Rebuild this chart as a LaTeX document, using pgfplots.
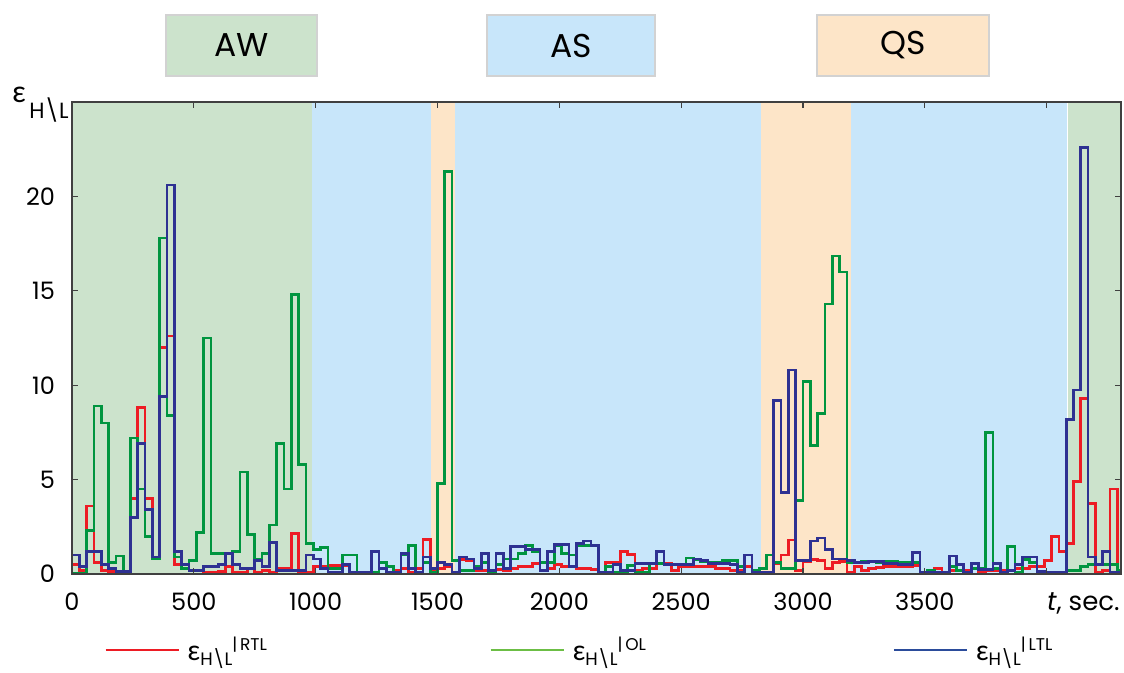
\documentclass[border=0pt]{standalone}
\usepackage{pgfplots}
\pgfplotsset{compat=1.18}
\usepackage{pgfplotstable}
\usepackage{fontspec}
\setmainfont{Poppins}
\newfontfamily\grk{Lato}

\definecolor{awbg}{HTML}{CCE3CC}
\definecolor{asbg}{HTML}{C8E6FA}
\definecolor{qsbg}{HTML}{FDE5C8}
\definecolor{cred}{HTML}{ED1C24}
\definecolor{cgreen}{HTML}{00953F}
\definecolor{cblue}{HTML}{2E3192}
\definecolor{lgreen}{HTML}{6CBE45}
\definecolor{lblue}{HTML}{2B4C9B}
\definecolor{boxline}{HTML}{D2D2D2}

\newcommand{\eps}{{\grk ε}}
\newcommand{\leg}[2]{\makebox[#1][l]{{\fontsize{14}{14}\selectfont\eps}\raisebox{-0.45ex}{\fontsize{9}{9}\selectfont H\textbackslash L}\raisebox{0.9ex}{\fontsize{8.5}{8.5}\selectfont |\,#2}}}

% t (s), RTL, OL, LTL -- 30 s steps
\pgfplotstableread{
t    R     G     B
0    0.5   0.05  1.0
30   0.2   0.05  0.4
60   3.6   2.3   1.2
90   0.6   8.9   1.2
120  0.2   8.0   0.5
150  0.15  0.6   0.3
180  0.1   0.95  0.15
210  0.1   0.05  0.15
240  4.0   7.2   3.0
270  8.8   4.5   6.9
300  4.0   2.0   3.4
330  0.9   0.8   0.9
360  12.0  17.8  9.4
390  12.6  8.4   20.6
420  0.5   0.9   1.2
450  0.3   0.3   0.5
480  0.2   0.7   0.2
510  0.2   2.2   0.2
540  0.1   12.5  0.4
570  0.1   1.1   0.4
600  0.15  1.1   0.5
630  0.4   1.1   1.1
660  0.1   1.2   0.5
690  0.1   5.4   0.3
720  0.3   2.1   0.3
750  0.1   0.8   0.7
780  0.2   1.1   0.4
810  0.1   2.6   1.65
840  0.3   6.9   0.2
870  0.3   4.5   0.2
900  2.16  14.8  0.2
930  0.1   5.8   0.2
960  0.1   1.6   1.0
990  0.4   1.3   0.8
1020 0.4   1.4   0.3
1050 0.45  0.3   0.1
1080 0.45  0.3   0.1
1110 0.45  1.0   0.5
1140 0.1   1.0   0.1
1170 0.1   0.1   0.1
1200 0.1   0.1   0.1
1230 0.1   0.1   1.2
1260 0.3   0.6   0.3
1290 0.1   0.4   0.1
1320 0.2   0.1   0.1
1350 0.3   1.0   1.1
1380 0.1   1.5   0.3
1410 0.3   0.1   0.1
1440 1.84  0.6   0.9
1470 0.2   0.1   0.3
1500 0.3   4.8   0.6
1530 0.4   21.3  0.5
1560 0.1   0.7   0.1
1590 0.75  0.2   0.9
1620 0.7   0.2   0.8
1650 0.2   0.4   0.3
1680 0.2   0.6   1.1
1710 0.2   0.1   0.2
1740 0.25  0.5   1.1
1770 0.2   0.8   0.3
1800 0.3   0.8   1.45
1830 0.4   1.1   1.45
1860 0.4   1.5   1.3
1890 0.55  1.2   1.3
1920 0.2   0.6   0.2
1950 0.3   0.6   1.2
1980 0.5   1.5   1.55
2010 0.4   1.1   1.55
2040 0.4   1.0   0.4
2070 0.3   1.5   1.6
2100 0.3   1.5   1.75
2130 0.25  1.5   1.5
2160 0.1   0.05  0.1
2190 0.6   0.4   0.1
2220 0.6   0.1   0.5
2250 1.2   0.1   0.2
2280 1.05  0.45  0.2
2310 0.2   0.1   0.55
2340 0.3   0.1   0.55
2370 0.3   0.55  0.55
2400 0.55  0.55  1.2
2430 0.55  0.5   0.5
2460 0.2   0.5   0.5
2490 0.4   0.5   0.5
2520 0.4   0.85  0.5
2550 0.4   0.75  0.8
2580 0.4   0.65  0.7
2610 0.4   0.6   0.55
2640 0.3   0.6   0.55
2670 0.3   0.7   0.55
2700 0.2   0.7   0.5
2730 0.2   0.4   0.1
2760 0.4   1.0   1.0
2790 0.1   0.2   0.1
2820 0.1   0.3   0.1
2850 0.1   1.0   0.1
2880 0.55  0.6   9.2
2910 1.0   0.3   4.3
2940 1.8   0.3   10.8
2970 0.2   3.9   0.7
3000 0.65  10.2  0.7
3030 0.75  6.8   1.75
3060 0.7   8.5   1.9
3090 0.3   14.3  1.3
3120 0.6   16.85 0.8
3150 0.65  16.0  0.8
3180 0.1   0.6   0.7
3210 0.4   0.6   0.6
3240 0.2   0.65  0.6
3270 0.3   0.65  0.65
3300 0.35  0.6   0.65
3330 0.4   0.65  0.55
3360 0.4   0.65  0.55
3390 0.4   0.6   0.5
3420 0.4   0.6   0.5
3450 0.45  0.6   1.13
3480 0.1   0.1   0.1
3510 0.1   0.2   0.1
3540 0.3   0.05  0.1
3570 0.1   0.1   0.1
3600 0.2   0.4   0.95
3630 0.2   0.2   0.5
3660 0.2   0.05  0.1
3690 0.3   0.3   0.55
3720 0.1   0.3   0.25
3750 0.2   7.5   0.25
3780 0.2   0.3   0.55
3810 0.2   0.1   0.1
3840 0.2   1.45  0.2
3870 0.3   0.1   0.5
3900 0.3   0.75  0.9
3930 0.4   0.6   0.9
3960 0.4   0.05  0.15
3990 0.7   0.1   0.1
4020 2.0   0.1   0.1
4050 1.2   0.1   0.1
4080 1.6   0.2   8.2
4110 4.9   0.2   9.75
4140 9.3   0.4   22.6
4170 3.75  0.5   0.9
4200 0.1   0.5   0.5
4230 0.2   0.5   1.2
4260 4.5   0.5   0.1
4290 0.1   0.2   0.1
4305 0.1   0.2   0.1
}\errdata

\begin{document}
\begin{tikzpicture}
\useasboundingbox (0,0) rectangle (562pt,336.5pt);

% regime boxes on top
\draw[boxline, line width=1pt, fill=awbg] (83pt,298.5pt) rectangle (158.5pt,329pt);
\node at (120.75pt,313.75pt) {\fontsize{16.5}{16.5}\selectfont AW};
\draw[boxline, line width=1pt, fill=asbg] (243.5pt,298.5pt) rectangle (327.5pt,329pt);
\node at (285.5pt,313.75pt) {\fontsize{16.5}{16.5}\selectfont AS};
\draw[boxline, line width=1pt, fill=qsbg] (408.5pt,298.5pt) rectangle (494.5pt,329pt);
\node at (451.5pt,313.75pt) {\fontsize{16.5}{16.5}\selectfont QS};

\begin{axis}[
  at={(36pt,49.5pt)}, anchor=south west,
  scale only axis, width=524.5pt, height=236pt,
  xmin=0, xmax=4305, ymin=0, ymax=25,
  axis on top,
  axis line style={black!75, line width=0.8pt},
  xtick={0,500,...,4000},
  xticklabels={0,500,1000,1500,2000,2500,3000,3500,{}},
  ytick={0,5,10,15,20},
  tick align=inside, major tick length=3pt,
  tick style={black!75, line width=0.6pt},
  /pgf/number format/assume math mode=true,
  tick label style={font=\fontsize{12}{12}\selectfont},
  xticklabel style={anchor=base, yshift=-18.5pt},
  yticklabel style={anchor=base east, xshift=-5pt, yshift=-4.5pt},
  legend columns=3,
  legend style={at={(rel axis cs:0,0)}, anchor=west, xshift=16pt, yshift=-38pt,
    draw=none, fill=none, inner sep=0pt, nodes={inner sep=0pt},
    /tikz/every odd column/.append style={column sep=4pt}},
  legend cell align=left,
]
\fill[awbg] (axis cs:0,0) rectangle (axis cs:985,25);
\fill[asbg] (axis cs:985,0) rectangle (axis cs:1475,25);
\fill[qsbg] (axis cs:1475,0) rectangle (axis cs:1572,25);
\fill[asbg] (axis cs:1572,0) rectangle (axis cs:2827,25);
\fill[qsbg] (axis cs:2827,0) rectangle (axis cs:3198,25);
\fill[asbg] (axis cs:3198,0) rectangle (axis cs:4085,25);
\fill[awbg] (axis cs:4089,0) rectangle (axis cs:4305,25);

\addplot[const plot, cred, line width=1.35pt,
  legend image code/.code={\draw[cred, line width=1.1pt] (0pt,0pt) -- (36.5pt,0pt);}]
  table[x=t, y=R] \errdata;
\addlegendentry{\leg{151pt}{RTL}}
\addplot[const plot, cgreen, line width=1.35pt,
  legend image code/.code={\draw[lgreen, line width=1.1pt] (0pt,0pt) -- (36.5pt,0pt);}]
  table[x=t, y=G] \errdata;
\addlegendentry{\leg{160pt}{OL}}
\addplot[const plot, cblue, line width=1.35pt,
  legend image code/.code={\draw[lblue, line width=1.1pt] (0pt,0pt) -- (36.5pt,0pt);}]
  table[x=t, y=B] \errdata;
\addlegendentry{\leg{60pt}{LTL}}
\end{axis}

% axis names
\node[anchor=base west, inner sep=0pt] at (6pt,285pt) {\fontsize{15}{15}\selectfont\eps};
\node[anchor=base west, inner sep=0pt] at (14.5pt,277pt) {\fontsize{11}{11}\selectfont H\textbackslash L};
\node[anchor=base east, inner sep=0pt] at (560pt,31pt) {\fontsize{13}{13}\selectfont\textit{t}, sec.};
\end{tikzpicture}
\end{document}
